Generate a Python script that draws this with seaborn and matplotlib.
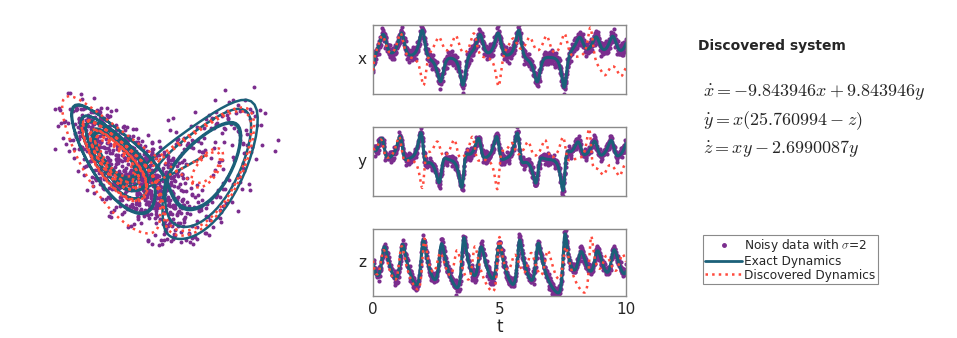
import numpy as np
import pandas as pd
import matplotlib
matplotlib.use("Agg")
import matplotlib.pyplot as plt
from matplotlib.lines import Line2D
import seaborn as sns

# parametros do sistema
x0 = [-8.0, 8.0, 27.0]
exact_coef = [10.0, 28.0, 8.0 / 3.0]
found_coef = [9.843946, 25.760994, 2.6990087]
t_span = [0.0, 10.0]
dt = 0.01
noise_sigma = 2.0
# ruido normalizado (valores fixos, reaproveitados em ciclo)
noise_std = [0.31, -1.12, 0.58, 1.74, -0.42, -0.87, 0.12, 2.05, -1.46, 0.77,
             -0.23, 1.01, -0.65, -1.89, 0.44, 0.93, -0.08, -1.27, 1.38, 0.21,
             -0.54, 0.67, -2.11, 0.05, 1.19, -0.36, -0.95, 1.62, -0.71, 0.28,
             0.84, -1.58, 0.49, -0.17, 1.07, -0.82, 2.31, -0.29, -1.04, 0.63,
             -0.48, 1.45, 0.02, -1.71, 0.88, -0.13, 0.36, -0.60, 1.28, -2.40,
             0.71, 0.15, -0.92, 1.90, -0.39, 0.54, -1.33, 0.97, -0.05, -0.77, 0.25]
var_names = ['x', 'y', 'z']
t_ticks = [0, 5, 10]
eq_lines = [r'$\dot{x} = -9.843946x + 9.843946y$',
            r'$\dot{y} = x(25.760994 - z)$',
            r'$\dot{z} = xy - 2.6990087y$']
legend_labels = [r'Noisy data with $\sigma$=2', 'Exact Dynamics', 'Discovered Dynamics']

c_noisy = '#7B2D8E'
c_exact = '#1B6079'
c_found = '#FF4A3D'


def rhs_exato(s, p):
    x, y, z = s
    return np.array([p[0] * (y - x), x * (p[1] - z) - y, x * y - p[2] * z])


def rhs_descoberto(s, p):
    # como escrito no quadro: y' = x(rho - z)
    x, y, z = s
    return np.array([p[0] * (y - x), x * (p[1] - z), x * y - p[2] * z])


def integrar(f, p, n, sub=10):
    s = np.array(x0, float)
    out = [s.copy()]
    h = dt / sub
    for i in range(n - 1):
        for k in range(sub):
            k1 = f(s, p)
            k2 = f(s + h / 2 * k1, p)
            k3 = f(s + h / 2 * k2, p)
            k4 = f(s + h * k3, p)
            s = s + h / 6 * (k1 + 2 * k2 + 2 * k3 + k4)
        out.append(s.copy())
    return np.array(out)


n = int(round((t_span[1] - t_span[0]) / dt)) + 1
t = t_span[0] + np.arange(n) * dt
exato = integrar(rhs_exato, exact_coef, n)
descoberto = integrar(rhs_descoberto, found_coef, n)

nz = np.array(noise_std)
ruido = np.column_stack([nz[(np.arange(n) * s + o) % len(nz)]
                         for s, o in [(1, 0), (7, 11), (13, 29)]])
ruidoso = exato + noise_sigma * ruido

df = pd.DataFrame({'t': t})
for k, v in enumerate(var_names):
    df[v + '_exato'] = exato[:, k]
    df[v + '_desc'] = descoberto[:, k]
    df[v + '_ruido'] = ruidoso[:, k]

sns.set_style('white')
plt.rcParams['font.family'] = ['DejaVu Sans']
plt.rcParams['mathtext.fontset'] = 'cm'

fig = plt.figure(figsize=(9.57, 3.38), dpi=100)

# atrator em 3D
ax3 = fig.add_axes([0.0, 0.0, 0.345, 1.0], projection='3d')
ax3.scatter(ruidoso[:, 0], ruidoso[:, 1], ruidoso[:, 2], s=8, c=c_noisy,
            depthshade=False, linewidths=0)
ax3.plot(exato[:, 0], exato[:, 1], exato[:, 2], color=c_exact, lw=1.8)
ax3.plot(descoberto[:, 0], descoberto[:, 1], descoberto[:, 2], color=c_found,
         lw=1.8, ls=':')
ax3.view_init(-10, 90)
ax3.set_box_aspect((1.4, 1.0, 1.0), zoom=1.08)
ax3.set_axis_off()

# series temporais
tops = [25, 127, 229]
bots = [94, 196, 296]
axes = []
for k, v in enumerate(var_names):
    ax = fig.add_axes([373 / 957, 1 - bots[k] / 338, 253 / 957,
                       (bots[k] - tops[k]) / 338])
    sns.scatterplot(data=df, x='t', y=v + '_ruido', ax=ax, color=c_noisy, s=9,
                    linewidth=0, zorder=1)
    sns.lineplot(data=df, x='t', y=v + '_exato', ax=ax, color=c_exact, lw=2.2,
                 zorder=2)
    sns.lineplot(data=df, x='t', y=v + '_desc', ax=ax, color=c_found, lw=1.8,
                 ls=':', zorder=3)
    ax.set_xlim(t_span)
    lo = min(df[v + '_ruido'].min(), df[v + '_desc'].min())
    hi = max(df[v + '_ruido'].max(), df[v + '_desc'].max())
    ax.set_ylim(lo, hi)
    ax.set_yticks([])
    ax.set_ylabel(v, rotation=0, fontsize=11, labelpad=8, va='center')
    for sp in ax.spines.values():
        sp.set_color('#8a8a8a')
        sp.set_linewidth(1.0)
    if k < 2:
        ax.set_xticks([])
        ax.set_xlabel('')
    else:
        ax.set_xticks(t_ticks)
        ax.tick_params(axis='x', length=0, labelsize=11, pad=4)
        ax.set_xlabel('t', fontsize=12, labelpad=1)
    axes.append(ax)

# quadro do sistema descoberto
fig.text(698 / 957, 1 - 46 / 338, 'Discovered system', fontsize=10,
         fontweight='bold', va='center', ha='left')
for i, linha in enumerate(eq_lines):
    fig.text(703 / 957, 1 - (93 + 28 * i) / 338, linha, fontsize=13,
             va='center', ha='left')

handles = [Line2D([], [], ls='', marker='o', ms=2.5, color=c_noisy),
           Line2D([], [], color=c_exact, lw=2),
           Line2D([], [], color=c_found, lw=1.8, ls=':')]
leg = fig.legend(handles, legend_labels, loc='upper left',
                 bbox_to_anchor=(703 / 957, 1 - 235 / 338), fontsize=8.7,
                 frameon=True, fancybox=False, framealpha=1, handlelength=3.0,
                 handletextpad=0.2, borderpad=0.2, labelspacing=0.05,
                 borderaxespad=0)
leg.get_frame().set_edgecolor('#8a8a8a')
leg.get_frame().set_linewidth(0.8)

fig.savefig('out.png', dpi=100)
